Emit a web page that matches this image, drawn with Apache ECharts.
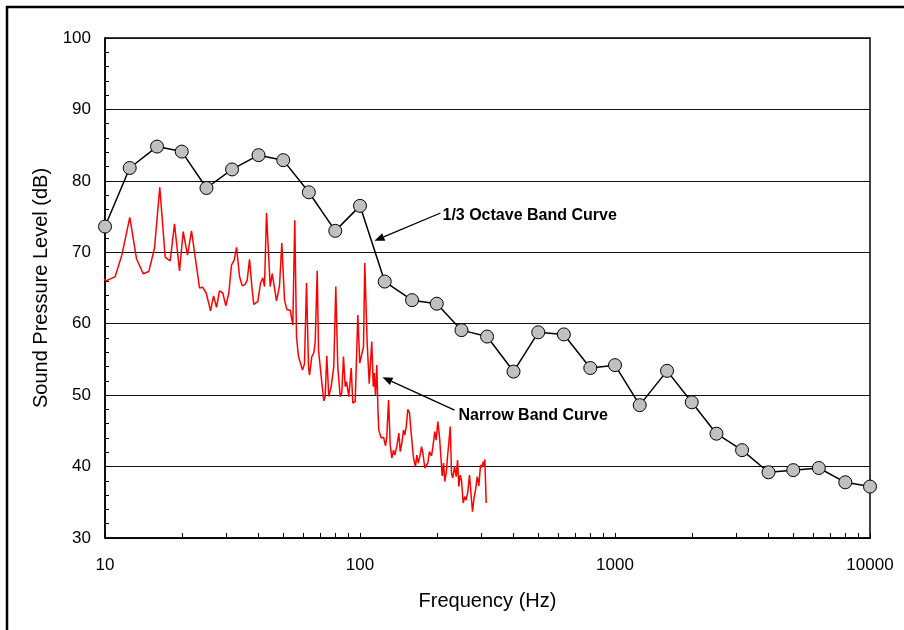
<!DOCTYPE html>
<html>
<head>
<meta charset="utf-8">
<script src="https://cdn.jsdelivr.net/npm/echarts@6/dist/echarts.min.js"></script>
<style>
  html, body { margin: 0; padding: 0; background: #fff; }
  #chart { width: 904px; height: 630px; }
</style>
</head>
<body>
<div id="chart"></div>
<script>
// 1/3 octave band centre frequencies and levels
const bandFreqs = [10, 12.5, 16, 20, 25, 31.5, 40, 50, 63, 80, 100, 125, 160, 200, 250, 315,
  400, 500, 630, 800, 1000, 1250, 1600, 2000, 2500, 3150, 4000, 5000, 6300, 8000, 10000];
const bandLevels = [73.6, 81.8, 84.8, 84.1, 79.0, 81.6, 83.6, 82.9, 78.4, 73.0, 76.5, 65.9, 63.3, 62.8, 59.1, 58.2,
  53.3, 58.8, 58.5, 53.8, 54.2, 48.6, 53.4, 49.0, 44.6, 42.3, 39.2, 39.5, 39.8, 37.8, 37.2];

// narrow band spectrum
const narrowFreqs = [9.52, 10.1, 10.96, 11.64, 12.51, 13.29, 14.12, 14.85, 15.64, 16.40, 17.22, 18.02, 18.73, 19.60, 20.26, 21.06, 21.84, 23.48,
  24.18, 24.94, 25.93, 26.65, 27.38, 28.12, 28.97, 29.77, 30.59, 31.34,
  32.12, 32.80, 33.70, 34.51, 35.46, 36.11, 36.87, 37.78, 38.33, 39.74,
  40.73, 41.58, 42.22, 42.99, 44.45, 45.26, 46.08, 47.05, 48.34, 49.36,
  50.58, 51.64, 52.44, 53.25, 54.51, 55.50, 56.36, 57.38, 59.49, 60.58,
  61.69, 62.81, 63.39, 64.72, 65.90, 66.74, 67.34, 67.95, 68.76, 70.44,
  72.11, 73.03, 74.09, 75.44, 77.10, 78.93, 80.36, 81.82, 83.62, 84.83,
  86.14, 87.50, 88.53, 90.38, 92.37, 93.72, 95.76, 98.04, 99.82, 101.6,
  103.2, 104.4, 106.7, 108.7, 109.9, 111.2, 112.7, 113.7, 115.0, 116.4,
  117.6, 118.5, 121.1, 123.7, 125.9, 127.4, 129.4, 131.4, 133.3, 135.3,
  136.9, 139.4, 142.0, 143.8, 145.9, 148.1, 149.9, 151.8, 154.0, 156.4,
  159.2, 162.1, 165.0, 167.0, 169.2, 171.6, 174.3, 176.4, 179.6, 181.8,
  184.5, 187.3, 190.7, 193.0, 196.5, 199.0, 201.9, 205.0, 207.5, 210.1,
  212.6, 215.1, 217.8, 220.4, 223.0, 225.9, 228.5, 231.2, 234.8, 238.4,
  241.3, 244.1, 247.2, 250.0, 253.9, 257.6, 260.9, 264.7, 268.8, 273.0,
  276.2, 280.5, 283.8, 288.2, 292.4, 296.9, 300.4, 304.2, 307.0, 308.7,
  312.6];
const narrowLevels = [66.7, 66.0, 66.6, 69.6, 74.9, 69.1, 67.0, 67.3, 70.6, 79.1, 69.3, 68.8, 74.0, 67.4, 72.9, 69.6, 73.0, 65.0,
  65.1, 64.3, 61.8, 63.9, 62.3, 64.6, 64.3, 62.5, 64.3, 68.2,
  68.9, 70.7, 66.6, 65.3, 65.5, 66.1, 69.0, 64.7, 62.7, 63.1,
  65.7, 66.4, 65.2, 75.5, 65.2, 67.0, 66.9, 63.2, 65.3, 71.3,
  63.3, 62.0, 61.9, 61.9, 59.8, 74.5, 58.2, 55.4, 53.5, 54.4,
  65.7, 54.0, 52.8, 55.4, 55.9, 57.5, 57.3, 67.4, 56.3, 52.6,
  49.2, 49.8, 55.5, 49.8, 51.2, 54.0, 65.2, 54.0, 49.8, 50.3,
  55.4, 51.2, 51.9, 49.8, 53.8, 48.9, 49.1, 61.2, 54.5, 54.7,
  56.8, 68.5, 57.3, 51.6, 51.4, 57.5, 51.2, 53.1, 50.0, 54.2,
  47.9, 45.1, 44.0, 44.1, 42.9, 44.2, 49.3, 43.0, 41.2, 42.3,
  41.6, 42.8, 44.7, 42.1, 43.3, 45.1, 44.4, 45.6, 48.0, 47.5,
  44.2, 41.2, 40.0, 41.6, 40.5, 41.4, 42.8, 41.9, 39.8, 39.6,
  40.5, 42.1, 41.5, 42.7, 44.9, 43.7, 46.3, 44.2, 41.4, 38.7,
  40.5, 37.9, 39.1, 41.4, 43.3, 45.6, 39.1, 38.4, 40.0, 38.6,
  40.9, 37.2, 38.8, 38.1, 34.9, 35.8, 35.3, 36.5, 38.8, 35.8,
  33.7, 35.8, 36.7, 38.6, 37.3, 40.2, 39.9, 40.7, 40.0, 41.0,
  34.9];

// x axis ticks (log decades and their 2..9 subdivisions)
const xTicks = [10, 20, 30, 40, 50, 60, 70, 80, 90, 100, 200, 300, 400, 500, 600, 700, 800, 900,
  1000, 2000, 3000, 4000, 5000, 6000, 7000, 8000, 9000, 10000];

const font = 'Arial, "Liberation Sans", sans-serif';

const chart = echarts.init(document.getElementById('chart'));

const option = {
  animation: false,
  backgroundColor: '#fff',
  grid: {
    left: 105, top: 38, right: 34, bottom: 92,
    show: true, borderColor: '#000', borderWidth: 1.5
  },
  xAxis: {
    type: 'log',
    logBase: 10,
    min: 10,
    max: 10000,
    name: 'Frequency (Hz)',
    nameLocation: 'middle',
    nameGap: 53,
    nameTextStyle: { fontFamily: font, fontSize: 20, color: '#000' },
    axisLine: { lineStyle: { color: '#000', width: 1.5 } },
    axisTick: { inside: true, length: 5, customValues: xTicks, lineStyle: { color: '#000' } },
    axisLabel: {
      margin: 19, fontFamily: font, fontSize: 17, color: '#000',
      formatter: v => String(v)
    },
    splitLine: { show: false }
  },
  yAxis: {
    type: 'value',
    min: 30,
    max: 100,
    interval: 10,
    name: 'Sound Pressure Level (dB)',
    nameLocation: 'middle',
    nameRotate: 90,
    nameGap: 54,
    nameTextStyle: { fontFamily: font, fontSize: 20, color: '#000' },
    axisLine: { show: true, lineStyle: { color: '#000', width: 1.5 } },
    axisTick: { show: true, inside: true, length: 4, lineStyle: { color: '#000' } },
    minorTick: { show: true, splitNumber: 5, length: 4, lineStyle: { color: '#000' } },
    axisLabel: { margin: 14, fontFamily: font, fontSize: 17, color: '#000' },
    splitLine: { show: true, lineStyle: { color: '#111', width: 1.2 } }
  },
  series: [
    {
      name: 'Narrow Band',
      type: 'line',
      data: narrowFreqs.map((f, i) => [f, narrowLevels[i]]),
      showSymbol: false,
      clip: false,
      lineStyle: { color: '#ff0000', width: 1.5 },
      z: 2
    },
    {
      name: '1/3 Octave Band',
      type: 'line',
      data: bandFreqs.map((f, i) => [f, bandLevels[i]]),
      symbol: 'circle',
      symbolSize: 13,
      lineStyle: { color: '#000', width: 1.5 },
      itemStyle: { color: '#c0c0c0', borderColor: '#000', borderWidth: 1 },
      z: 3
    }
  ]
};

chart.setOption(option);

// annotations: label anchor, arrow tail and tip, all in data units
const notes = [
  { text: '1/3 Octave Band Curve', at: [210.6, 75.1], tail: [206.9, 75.5], tip: [114.0, 71.6] },
  { text: 'Narrow Band Curve', at: [243.4, 47.2], tail: [234.8, 47.9], tip: [122.5, 52.5] }
];

const graphics = [{
  type: 'rect',
  shape: { x: 7, y: 7, width: 1000, height: 1000 },
  style: { fill: 'none', stroke: '#000', lineWidth: 2.5 },
  silent: true
}];

notes.forEach(n => {
  const a = chart.convertToPixel({ gridIndex: 0 }, n.at);
  const q = chart.convertToPixel({ gridIndex: 0 }, n.tail);
  const p = chart.convertToPixel({ gridIndex: 0 }, n.tip);
  const dx = p[0] - q[0], dy = p[1] - q[1];
  const len = Math.sqrt(dx * dx + dy * dy);
  const ux = dx / len, uy = dy / len;
  const bx = p[0] - ux * 10, by = p[1] - uy * 10;
  graphics.push({
    type: 'line',
    shape: { x1: q[0], y1: q[1], x2: bx, y2: by },
    style: { stroke: '#000', lineWidth: 1.3 },
    z: 10
  });
  graphics.push({
    type: 'polygon',
    shape: { points: [[p[0], p[1]], [bx - uy * 4, by + ux * 4], [bx + uy * 4, by - ux * 4]] },
    style: { fill: '#000' },
    z: 10
  });
  graphics.push({
    type: 'text',
    x: a[0], y: a[1],
    style: {
      text: n.text, fill: '#000', font: 'bold 16px ' + font,
      textAlign: 'left', textVerticalAlign: 'middle'
    },
    z: 10
  });
});

chart.setOption({ graphic: graphics });
</script>
</body>
</html>
